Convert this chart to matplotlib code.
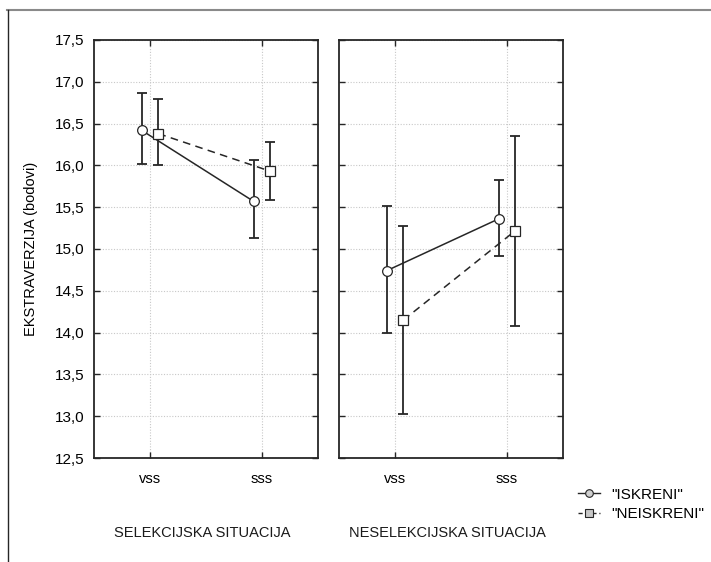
import numpy as np
import matplotlib
matplotlib.use("Agg")
import matplotlib.pyplot as plt
from matplotlib.lines import Line2D

plt.rcParams['font.family'] = ['Liberation Sans', 'DejaVu Sans']

conditions = ["vss", "sss"]
panels = ["SELEKCIJSKA SITUACIJA", "NESELEKCIJSKA SITUACIJA"]
groups = ['"ISKRENI"', '"NEISKRENI"']

# means and CI bounds per panel, group -> [vss, sss]
means = {
    0: {'"ISKRENI"': [16.42, 15.57], '"NEISKRENI"': [16.38, 15.93]},
    1: {'"ISKRENI"': [14.74, 15.36], '"NEISKRENI"': [14.15, 15.22]},
}
upper = {
    0: {'"ISKRENI"': [16.87, 16.06], '"NEISKRENI"': [16.79, 16.28]},
    1: {'"ISKRENI"': [15.52, 15.83], '"NEISKRENI"': [15.27, 16.35]},
}
lower = {
    0: {'"ISKRENI"': [16.02, 15.13], '"NEISKRENI"': [16.00, 15.59]},
    1: {'"ISKRENI"': [14.00, 14.92], '"NEISKRENI"': [13.03, 14.08]},
}

styles = {
    '"ISKRENI"': dict(marker='o', ls='-', offset=-0.075),
    '"NEISKRENI"': dict(marker='s', ls=(0, (5, 3.5)), offset=0.075),
}

ink = '#262626'
fig = plt.figure(figsize=(7.11, 5.62), dpi=100)

# outer frame lines
fig.add_artist(Line2D([7 / 711, 1], [1 - 10 / 562, 1 - 10 / 562], color='#8a8a8a', lw=1.5,
                      transform=fig.transFigure))
fig.add_artist(Line2D([8 / 711, 8 / 711], [0, 1 - 10 / 562], color=ink, lw=1.0,
                      transform=fig.transFigure))

lefts = [94 / 711, 339 / 711]
x = np.arange(len(conditions))
for p, left in enumerate(lefts):
    ax = fig.add_axes([left, 104 / 562, 224 / 711, 418 / 562])
    for g in groups:
        st = styles[g]
        xs = x + st['offset']
        m = np.array(means[p][g])
        up = np.array(upper[p][g]) - m
        lo = m - np.array(lower[p][g])
        ax.errorbar(xs, m, yerr=[lo, up], fmt='none', ecolor=ink, elinewidth=1.3,
                    capsize=3.5, capthick=1.3, zorder=2)
        ax.plot(xs, m, color=ink, lw=1.1, ls=st['ls'], marker=st['marker'],
                markersize=7 if st['marker'] == 'o' else 6.5,
                markerfacecolor='white', markeredgecolor=ink, markeredgewidth=0.9, zorder=3)
    ax.set_xlim(-0.5, 1.5)
    ax.set_ylim(12.5, 17.5)
    ax.set_xticks(x)
    ax.set_xticklabels(conditions, fontsize=10.5)
    yt = np.arange(12.5, 17.51, 0.5)
    ax.set_yticks(yt)
    if p == 0:
        ax.set_yticklabels([f"{v:.1f}".replace('.', ',') for v in yt], fontsize=11)
        ax.set_ylabel("EKSTRAVERZIJA (bodovi)", fontsize=10.5)
        ax.yaxis.set_label_coords(-0.25, 0.5)
    else:
        ax.set_yticklabels([])
    ax.grid(True, color='#c8c8c8', ls=(0, (1, 1.5)), lw=0.8)
    ax.tick_params(direction='in', top=True, right=True, length=4, width=1, color=ink)
    ax.tick_params(axis='y', pad=7)
    ax.tick_params(axis='x', pad=10)
    for s in ax.spines.values():
        s.set_linewidth(1.3)
        s.set_color(ink)
    ax.text(0.482, -0.18, panels[p], transform=ax.transAxes, ha='center', va='center',
            fontsize=10.5, color='#1a1a1a')

handles = [
    Line2D([], [], color=ink, lw=1.0, ls='-', marker='o', markersize=5.5,
           markerfacecolor='#d0d0d0', markeredgecolor=ink, markeredgewidth=0.8),
    Line2D([], [], color=ink, lw=1.0, ls=(0, (3, 2)), marker='s', markersize=5.5,
           markerfacecolor='#c8c8c8', markeredgecolor=ink, markeredgewidth=0.8),
]
fig.legend(handles, groups, loc='upper left', bbox_to_anchor=(564 / 711, 1 - 474 / 562),
           frameon=False, fontsize=11, handlelength=1.45, handletextpad=0.75, labelspacing=0.35)

fig.savefig("out.png", dpi=100)
